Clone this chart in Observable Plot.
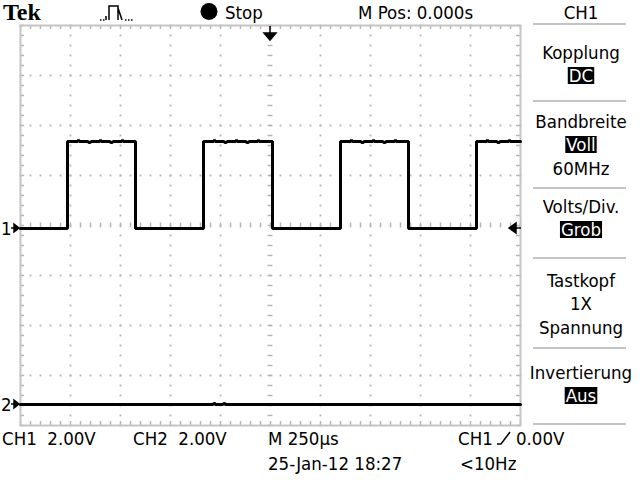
<!DOCTYPE html>
<html><head><meta charset="utf-8">
<script src="https://cdn.jsdelivr.net/npm/d3@7"></script>
<script src="https://cdn.jsdelivr.net/npm/@observablehq/plot@0.6"></script>
<style>
html,body{margin:0;padding:0;background:#fff;}
#chart{position:relative;width:640px;height:480px;overflow:hidden;}
</style></head><body><div id="chart"></div>
<script>
const ch1Time = [-1250,-1015,-1015,-965,-960,-955,-915,-905,-895,-855,-850,-845,-805,-795,-785,-745,-740,-735,-675,-675,
  -335,-335,-285,-280,-275,-235,-225,-215,-175,-170,-165,-125,-115,-105,-65,-60,-55,10,10,
  350,350,400,405,410,450,460,470,510,515,520,560,570,580,620,625,630,690,690,
  1030,1030,1080,1085,1090,1130,1140,1150,1190,1195,1200,1250];
const ch1Volt = [0,0,3.48,3.48,3.54,3.48,3.48,3.43,3.48,3.48,3.54,3.48,3.48,3.43,3.48,3.48,3.54,3.48,3.48,0,
  0,3.48,3.48,3.54,3.48,3.48,3.43,3.48,3.48,3.54,3.48,3.48,3.43,3.48,3.48,3.54,3.48,3.48,0,
  0,3.48,3.48,3.54,3.48,3.48,3.43,3.48,3.48,3.54,3.48,3.48,3.43,3.48,3.48,3.54,3.48,3.48,0,
  0,3.48,3.48,3.54,3.48,3.48,3.43,3.48,3.48,3.54,3.48,3.48];
const ch2Time = [-1250,-290,-280,-275,-240,-230,-225,1250];
const ch2Volt = [0,0,0.05,0,0,0.05,0,0];
const ch1PosDiv = -0.06;
const ch2PosDiv = -3.58;
const voltsPerDiv = 2;
const timePerDiv = 250;
const trigLevel = 0.0;
const divsX = 10, divsY = 8;

const brand = "Tek";
const runState = "Stop";
const mPosLabel = "M Pos: 0.000s";
const menuHeader = "CH1";
const menuItems = [
  {title:"Kopplung", value:"DC", inv:true},
  {title:"Bandbreite", value:"Voll", inv:true, extra:"60MHz"},
  {title:"Volts/Div.", value:"Grob", inv:true},
  {title:"Tastkopf", value:"1X", inv:false, extra:"Spannung"},
  {title:"Invertierung", value:"Aus", inv:true}
];
const statusRow1 = ["CH1  2.00V","CH2  2.00V","M 250µs"];
const trigSource = "CH1";
const trigLevelLabel = "0.00V";
const statusRow2 = ["25-Jan-12 18:27","<10Hz"];
const chanMarks = ["1","2"];

// ---- build ----
const ch1 = ch1Time.map((t,i)=>({t, v:ch1Volt[i]}));
const ch2 = ch2Time.map((t,i)=>({t, v:ch2Volt[i]}));
const xDom = [-timePerDiv*divsX/2, timePerDiv*divsX/2];
const yDom = [-divsY/2, divsY/2];
const minorX = d3.range(0, divsX*5+1).map(k=>xDom[0]+k*timePerDiv/5);
const minorY = d3.range(0, divsY*5+1).map(k=>yDom[0]+k*0.2);
const majorX = d3.range(1,divsX).map(k=>xDom[0]+k*timePerDiv).filter(v=>v!==0);
const majorY = d3.range(1,divsY).map(k=>yDom[0]+k).filter(v=>v!==0);
const dots = [];
majorX.forEach(x=>minorY.forEach(y=>dots.push({x,y})));
majorY.forEach(y=>minorX.forEach(x=>dots.push({x,y})));
const G = "#b4b4b4";

const plot = Plot.plot({
  width:640, height:480,
  marginLeft:20, marginRight:120, marginTop:25, marginBottom:55,
  x:{domain:xDom, axis:null},
  y:{domain:yDom, axis:null},
  style:{background:"#fff"},
  marks:[
    Plot.dot(dots,{x:"x",y:"y",symbol:"square",r:1.05,fill:G,stroke:null}),
    Plot.ruleX(minorX,{x:d=>d,y1:-0.05,y2:0.05,stroke:G,strokeWidth:1.5}),
    Plot.ruleY(minorY,{y:d=>d,x1:-12,x2:12,stroke:G,strokeWidth:1.5}),
    Plot.ruleX(minorX,{x:d=>d,y1:yDom[1],y2:yDom[1]-0.08,stroke:G,strokeWidth:1.5}),
    Plot.ruleX(minorX,{x:d=>d,y1:yDom[0],y2:yDom[0]+0.08,stroke:G,strokeWidth:1.5}),
    Plot.ruleY(minorY,{y:d=>d,x1:xDom[0],x2:xDom[0]+20,stroke:G,strokeWidth:1.5}),
    Plot.ruleY(minorY,{y:d=>d,x1:xDom[1],x2:xDom[1]-20,stroke:G,strokeWidth:1.5}),
    Plot.frame({stroke:"#c4c4c4",strokeWidth:2}),
    Plot.line(ch2,{x:"t",y:d=>d.v/voltsPerDiv+ch2PosDiv,stroke:"#000",strokeWidth:3,strokeLinejoin:"miter"}),
    Plot.line(ch1,{x:"t",y:d=>d.v/voltsPerDiv+ch1PosDiv,stroke:"#000",strokeWidth:3,strokeLinejoin:"miter"})
  ]
});
document.getElementById("chart").appendChild(plot);
const xs = plot.scale("x"), ys = plot.scale("y");
const svg = d3.select(plot);
const FONT = '"DejaVu Sans Condensed","Liberation Sans Narrow","Arial Narrow",sans-serif';
const FS = 18.5;
function txt(s,x,y,anchor="start",opts={}){
  return svg.append("text").attr("x",x).attr("y",y).attr("text-anchor",anchor)
    .attr("font-family",opts.family||FONT).attr("font-size",opts.size||FS)
    .attr("font-weight",opts.weight||"normal").attr("fill",opts.fill||"#000")
    .style("white-space","pre").text(s);
}
// top bar
txt(brand,3,20,"start",{family:'"Liberation Serif","DejaVu Serif",serif',size:24,weight:"bold"});
svg.append("path").attr("d","M100,20h1.5M103,20h1.5M106,20V16M109,20V6H118V20M118,8L122,20M125,20h1.5M128,20h1.5M131,20h1.5")
  .attr("stroke","#000").attr("stroke-width",1.5).attr("fill","none");
svg.append("circle").attr("cx",209).attr("cy",11.5).attr("r",8.5).attr("fill","#000");
txt(runState,225,19);
txt(mPosLabel,358,19);
const menuX = 581;
txt(menuHeader,menuX,19,"middle");
svg.append("line").attr("x1",533).attr("x2",626).attr("y1",24).attr("y2",24).attr("stroke","#c4c4c4").attr("stroke-width",2);

// side menu
const titleBase = [59,128,213,287,379];
const sepY = [101,188,258,348,424];
menuItems.forEach((m,i)=>{
  const b = titleBase[i];
  txt(m.title,menuX,b,"middle");
  const vt = txt(m.value,menuX,b+23,"middle",{fill:m.inv?"#fff":"#000"});
  if(m.inv){
    const bb = vt.node().getBBox();
    svg.insert("rect",function(){return vt.node();}).attr("x",bb.x-1).attr("y",b+8).attr("width",bb.width+2).attr("height",17).attr("fill","#000");
  }
  if(m.extra) txt(m.extra,menuX,b+47,"middle");
  svg.append("line").attr("x1",533).attr("x2",626).attr("y1",sepY[i]).attr("y2",sepY[i]).attr("stroke","#c4c4c4").attr("stroke-width",2);
});

// channel ground markers
[[chanMarks[0],ch1PosDiv],[chanMarks[1],ch2PosDiv]].forEach(([s,p])=>{
  const y = ys.apply(p);
  txt(s,1,y+7);
  svg.append("path").attr("d",`M11,${y}H19M14,${y-4}L19,${y}L14,${y+4}Z`).attr("stroke","#000").attr("stroke-width",1.5).attr("fill","#000");
});
// trigger level arrow
{
  const y = ys.apply(trigLevel/voltsPerDiv+ch1PosDiv);
  svg.append("path").attr("d",`M509,${y}L516,${y-5}V${y+5}Z M516,${y}H521`).attr("stroke","#000").attr("stroke-width",1.5).attr("fill","#000");
}
// trigger position arrow
{
  const x = xs.apply(0);
  svg.append("path").attr("d",`M${x},26V33M${x-6},33H${x+6}L${x},40Z`).attr("stroke","#000").attr("stroke-width",1.5).attr("fill","#000");
}
// status rows
txt(statusRow1[0],2,445);
txt(statusRow1[1],133,445);
txt(statusRow1[2],268,445);
txt(trigSource,458,445);
svg.append("path").attr("d","M497,444H501L510,432").attr("stroke","#000").attr("stroke-width",1.5).attr("fill","none");
txt(trigLevelLabel,516,445);
txt(statusRow2[0],268,470);
txt(statusRow2[1],460,470);
</script></body></html>
